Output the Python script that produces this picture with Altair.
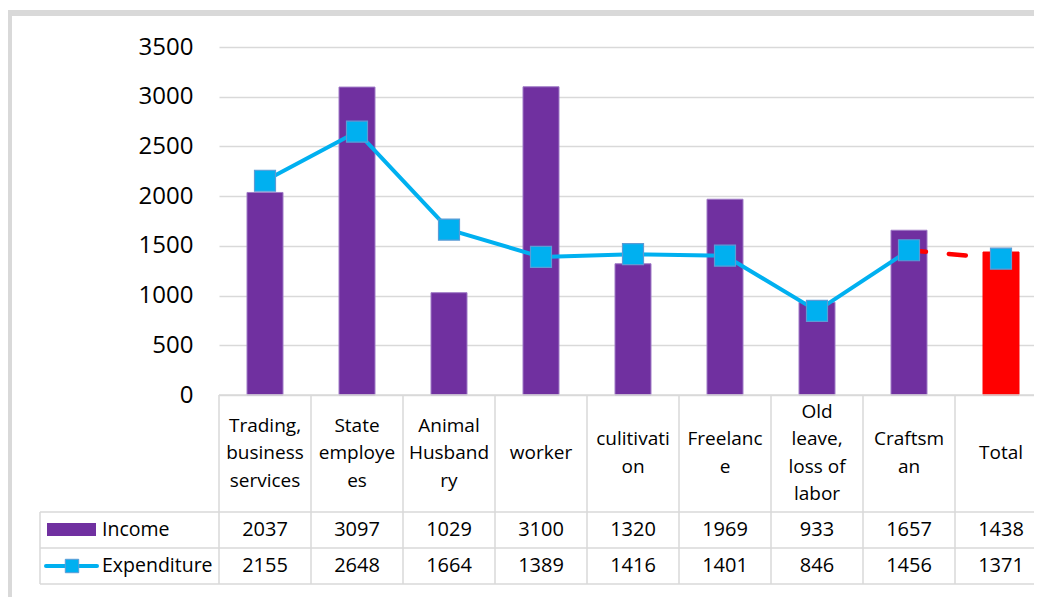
import altair as alt
import pandas as pd

# ---- data ----
labels = [
    "Trading,\nbusiness\nservices",
    "State\nemploye\nes",
    "Animal\nHusband\nry",
    "worker",
    "culitivati\non",
    "Freelanc\ne",
    "Old\nleave,\nloss of\nlabor",
    "Craftsm\nan",
    "Total",
]
income = [2037, 3097, 1029, 3100, 1320, 1969, 933, 1657, 1438]
expenditure = [2155, 2648, 1664, 1389, 1416, 1401, 846, 1456, 1371]
kind = ["group"] * 8 + ["total"]
y_ticks = [0, 500, 1000, 1500, 2000, 2500, 3000, 3500]

df = pd.DataFrame({"label": labels, "income": income,
                   "expenditure": expenditure, "kind": kind})
df["nlines"] = [s.count("\n") + 1 for s in labels]

FONT = "Open Sans"
GRID = "#d9d9d9"
PURPLE = "#7030a0"
BLUE = "#00b0f0"

W, H = 815, 348
xscale = alt.Scale(domain=labels, range=[0, 828], paddingInner=0, paddingOuter=0)
xenc = alt.X("label:N", scale=xscale, axis=None, sort=labels)
yscale = alt.Scale(domain=[0, 3500], nice=False, zero=True)

one = pd.DataFrame({"a": [0]})

# outer frame (light gray border, left and top)
frame_left = alt.Chart(one).mark_rect(color=GRID).encode(
    x=alt.value(-212), x2=alt.value(-207), y=alt.value(-37), y2=alt.value(560))
frame_top = alt.Chart(one).mark_rect(color=GRID).encode(
    x=alt.value(-212), x2=alt.value(850), y=alt.value(-37), y2=alt.value(-31))

bars = alt.Chart(df).mark_bar(width=36, strokeWidth=1).encode(
    x=xenc,
    y=alt.Y("income:Q", scale=yscale,
            axis=alt.Axis(values=y_ticks, format="d", title=None, domain=False,
                          ticks=False, labelFont=FONT, labelFontSize=24,
                          labelColor="#000", labelPadding=26,
                          gridColor=GRID, gridWidth=1.5)),
    color=alt.Color("kind:N", scale=alt.Scale(domain=["group", "total"],
                                              range=[PURPLE, "#ff0000"]), legend=None),
    stroke=alt.Stroke("kind:N", scale=alt.Scale(domain=["group", "total"],
                                                range=["#9f7bc6", "#ff0000"]), legend=None),
)

line_blue = alt.Chart(df).transform_filter(alt.datum.kind == "group").mark_line(
    color=BLUE, strokeWidth=4, strokeJoin="round").encode(
    x=xenc, y=alt.Y("expenditure:Q", scale=yscale))

line_red = alt.Chart(df).transform_window(
    rank="row_number()").transform_filter(alt.datum.rank >= 8).mark_line(
    color="#ff0000", strokeWidth=4.5, strokeDash=[17, 23], strokeCap="round").encode(
    x=xenc, y=alt.Y("expenditure:Q", scale=yscale))

points = alt.Chart(df).mark_square(size=441, fill=BLUE, stroke="#5b9bd5",
                                   strokeWidth=1.2, opacity=1).encode(
    x=xenc, y=alt.Y("expenditure:Q", scale=yscale))

# ---- data table below the plot ----
TOP, R1, R2, BOT = 348, 465, 501, 537
tbl_x0 = -179
hrule_top = alt.Chart(one).mark_rule(color=GRID, strokeWidth=1.5).encode(
    x=alt.value(0), x2=alt.value(850), y=alt.value(TOP))
hrules = [alt.Chart(one).mark_rule(color=GRID, strokeWidth=1.5).encode(
    x=alt.value(tbl_x0), x2=alt.value(850), y=alt.value(v)) for v in (R1, R2, BOT)]
vrule_left = alt.Chart(one).mark_rule(color=GRID, strokeWidth=1.5).encode(
    x=alt.value(tbl_x0), y=alt.value(R1), y2=alt.value(BOT))
vrules = alt.Chart(df).mark_rule(color=GRID, strokeWidth=1.5).encode(
    x=alt.X("label:N", scale=xscale, axis=None, sort=labels, bandPosition=0),
    y=alt.value(TOP), y2=alt.value(BOT))

LH = 27.5
HEAD_C = 406
headers = [
    alt.Chart(df).transform_filter(alt.datum.nlines == n).mark_text(
        font=FONT, fontSize=19, lineBreak="\n", lineHeight=LH,
        baseline="middle", color="#000").encode(
        x=xenc, y=alt.value(HEAD_C - (n - 1) * LH / 2), text="label:N")
    for n in (1, 2, 3, 4)
]
row_inc = alt.Chart(df).mark_text(font=FONT, fontSize=20, baseline="middle",
                                  color="#000").encode(
    x=xenc, y=alt.value((R1 + R2) / 2), text="income:Q")
row_exp = alt.Chart(df).mark_text(font=FONT, fontSize=20, baseline="middle",
                                  color="#000").encode(
    x=xenc, y=alt.value((R2 + BOT) / 2), text="expenditure:Q")

# legend keys inside the table
key_inc = alt.Chart(one).mark_rect(color=PURPLE).encode(
    x=alt.value(-172), x2=alt.value(-123), y=alt.value(476), y2=alt.value(489))
key_inc_t = alt.Chart(one).mark_text(font=FONT, fontSize=19.5, align="left",
                                     baseline="middle", color="#000").encode(
    x=alt.value(-117), y=alt.value((R1 + R2) / 2), text=alt.value("Income"))
key_exp_l = alt.Chart(one).mark_rule(color=BLUE, strokeWidth=4, strokeCap="round").encode(
    x=alt.value(-173), x2=alt.value(-122), y=alt.value(519))
key_exp_p = alt.Chart(one).mark_square(size=180, fill=BLUE, stroke="#5b9bd5",
                                       strokeWidth=1, opacity=1).encode(
    x=alt.value(-147), y=alt.value(519))
key_exp_t = alt.Chart(one).mark_text(font=FONT, fontSize=19.5, align="left",
                                     baseline="middle", color="#000").encode(
    x=alt.value(-117), y=alt.value((R2 + BOT) / 2), text=alt.value("Expenditure"))

chart = alt.layer(
    frame_left, frame_top, bars, line_red, line_blue, points,
    hrule_top, *hrules, vrule_left, vrules,
    *headers, row_inc, row_exp,
    key_inc, key_inc_t, key_exp_l, key_exp_p, key_exp_t,
).resolve_scale(color="independent", stroke="independent").properties(
    width=W, height=H,
    autosize=alt.AutoSizeParams(type="none"),
    padding={"left": 211, "top": 39, "right": 0, "bottom": 202},
).configure_view(stroke=None)

chart.save("out.html", embed_options={"renderer": "svg", "actions": False})
